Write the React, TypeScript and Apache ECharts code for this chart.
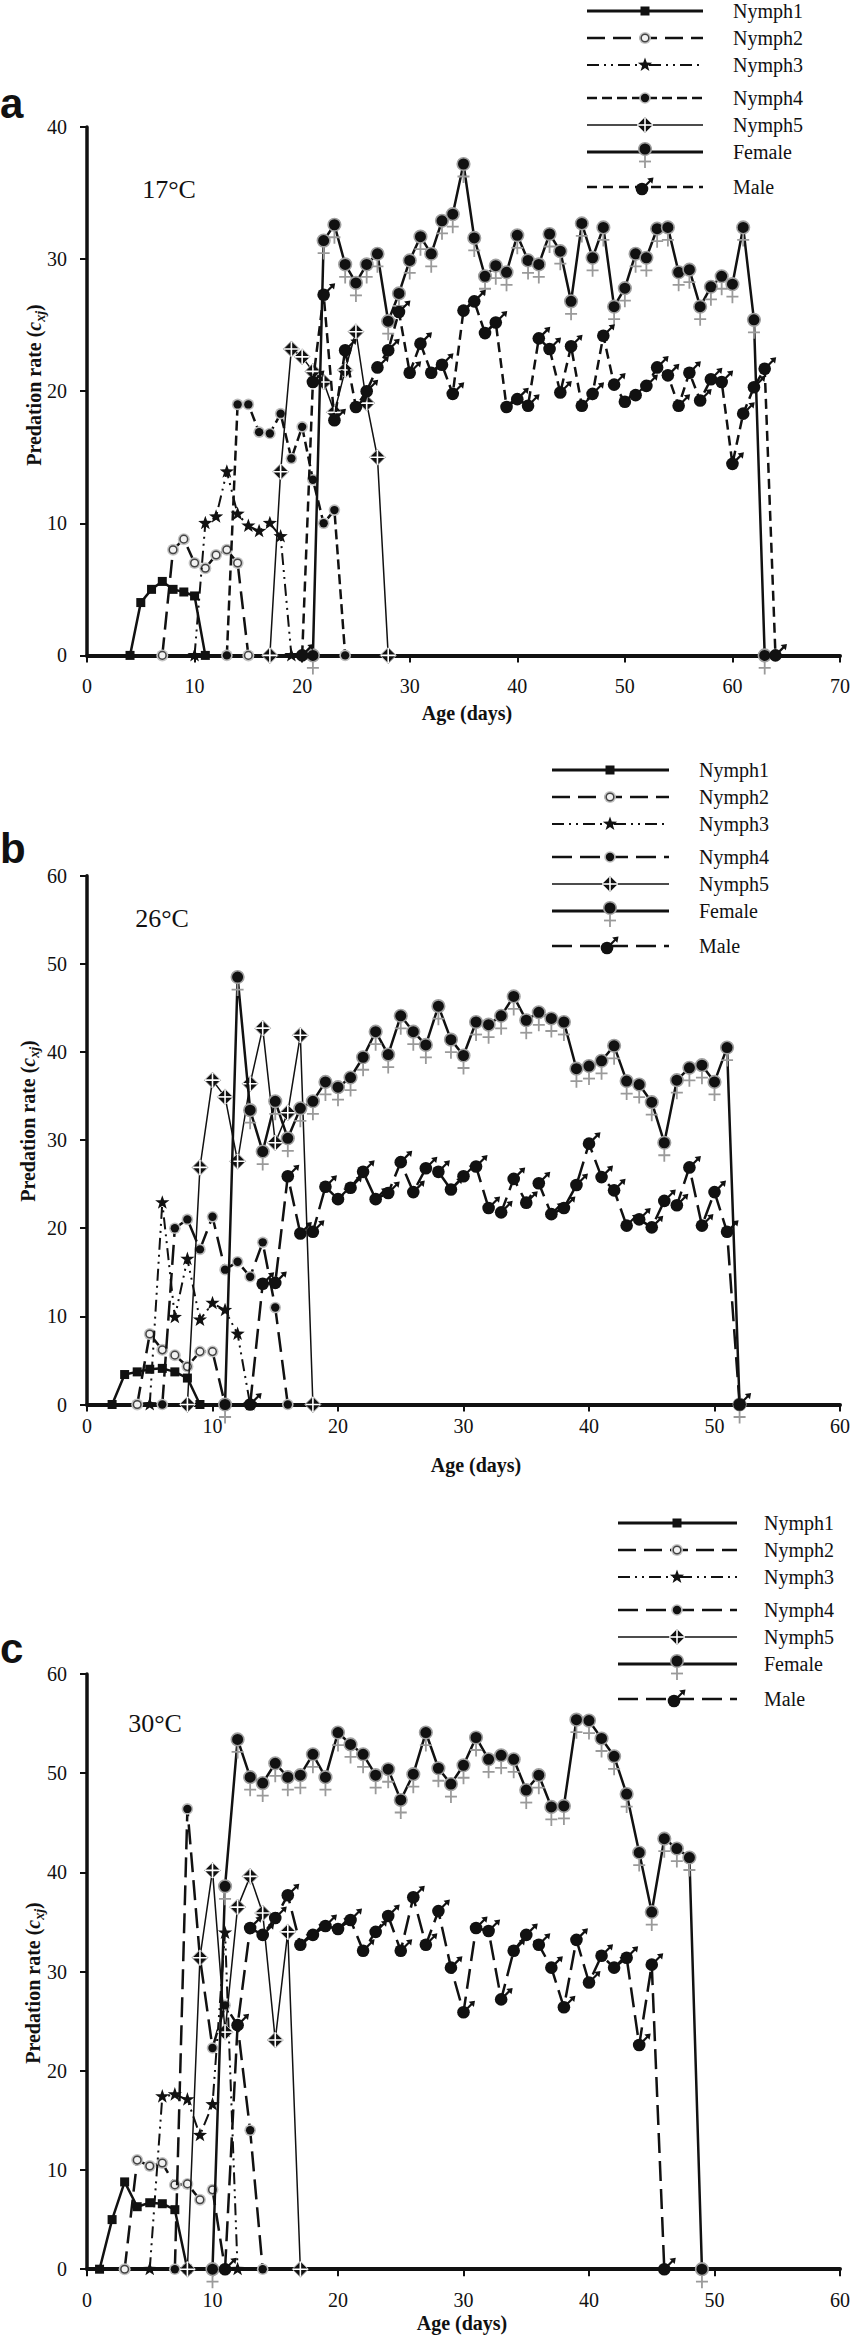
import React, { useEffect, useRef } from "react";
import * as echarts from "echarts";

// ---------------- DATA ----------------
const seriesNames = ["Nymph1", "Nymph2", "Nymph3", "Nymph4", "Nymph5", "Female", "Male"];
const xTicksA = [0, 10, 20, 30, 40, 50, 60, 70];
const xTicksBC = [0, 10, 20, 30, 40, 50, 60];

// Panel a – 17 °C (first value is the day given by the *Start constant)
const aNymph1Start = 4;
const aNymph1 = [0, 4.0, 5.0, 5.6, 5.0, 4.8, 4.5, 0];
const aNymph2Start = 7;
const aNymph2 = [0, 8.0, 8.8, 7.0, 6.6, 7.6, 8.0, 7.0, 0];
const aNymph3Start = 10;
const aNymph3 = [0, 10.0, 10.5, 13.9, 10.7, 9.8, 9.4, 10.0, 9.0, 0];
const aNymph4Start = 13;
const aNymph4 = [0, 19.0, 19.0, 16.9, 16.8, 18.3, 14.9, 17.3, 13.3, 10.0, 11.0, 0];
const aNymph5Start = 17;
const aNymph5 = [0, 13.9, 23.2, 22.6, 21.5, 20.7, 18.4, 21.6, 24.5, 19.1, 15.0, 0];
const aFemaleStart = 21;
const aFemale = [0, 31.4, 32.6, 29.6, 28.2, 29.6, 30.4, 25.3, 27.4, 29.9, 31.7, 30.4, 32.9, 33.4, 37.2, 31.6, 28.7, 29.5, 29.0, 31.8, 29.9, 29.6, 31.9, 30.6, 26.8, 32.7, 30.1, 32.4, 26.4, 27.8, 30.4, 30.1, 32.3, 32.4, 29.0, 29.2, 26.4, 27.9, 28.7, 28.1, 32.4, 25.4, 0];
const aMaleStart = 20;
const aMale = [0, 20.7, 27.3, 17.8, 23.1, 18.8, 20.0, 21.8, 23.1, 26.0, 21.4, 23.6, 21.4, 22.0, 19.8, 26.1, 26.8, 24.4, 25.2, 18.8, 19.4, 18.9, 24.0, 23.2, 19.9, 23.4, 18.9, 19.8, 24.2, 20.5, 19.2, 19.7, 20.4, 21.8, 21.2, 18.9, 21.4, 19.3, 20.9, 20.7, 14.5, 18.3, 20.3, 21.7, 0];

// Panel b – 26 °C
const bNymph1Start = 2;
const bNymph1 = [0, 3.4, 3.7, 4.0, 4.1, 3.7, 3.0, 0];
const bNymph2Start = 4;
const bNymph2 = [0, 8.0, 6.2, 5.6, 4.3, 6.0, 6.0, 0];
const bNymph3Start = 5;
const bNymph3 = [0, 22.9, 9.9, 16.5, 9.6, 11.5, 10.7, 8.0, 0];
const bNymph4Start = 6;
const bNymph4 = [0, 20.0, 21.0, 17.6, 21.3, 15.3, 16.2, 14.5, 18.4, 11.0, 0];
const bNymph5Start = 8;
const bNymph5 = [0, 26.9, 36.8, 34.9, 27.6, 36.4, 42.7, 29.7, 33.1, 41.9, 0];
const bFemaleStart = 11;
const bFemale = [0, 48.5, 33.4, 28.7, 34.4, 30.2, 33.6, 34.4, 36.6, 36.0, 37.1, 39.4, 42.3, 39.7, 44.1, 42.3, 40.8, 45.2, 41.4, 39.6, 43.4, 43.1, 44.1, 46.3, 43.6, 44.5, 43.8, 43.4, 38.1, 38.4, 39.0, 40.7, 36.7, 36.3, 34.3, 29.7, 36.8, 38.2, 38.5, 36.6, 40.5, 0];
const bMaleStart = 13;
const bMale = [0, 13.7, 13.8, 25.9, 19.4, 19.6, 24.7, 23.3, 24.6, 26.4, 23.3, 24.0, 27.5, 24.1, 26.8, 26.4, 24.4, 25.9, 27.0, 22.3, 21.8, 25.6, 22.9, 25.1, 21.6, 22.3, 24.9, 29.6, 25.8, 24.3, 20.3, 21.0, 20.1, 23.1, 22.6, 26.9, 20.3, 24.1, 19.6, 0];

// Panel c – 30 °C
const cNymph1Start = 1;
const cNymph1 = [0, 5.0, 8.8, 6.3, 6.7, 6.6, 6.0, 0];
const cNymph2Start = 3;
const cNymph2 = [0, 11.0, 10.4, 10.7, 8.5, 8.6, 7.0, 8.0, 0];
const cNymph3Start = 5;
const cNymph3 = [0, 17.4, 17.6, 17.1, 13.5, 16.6, 33.9, 0];
const cNymph4Start = 7;
const cNymph4 = [0, 46.4, 31.4, 22.3, 26.6, 24.6, 14.0, 0];
const cNymph5Start = 8;
const cNymph5 = [0, 31.4, 40.2, 23.9, 36.5, 39.6, 35.9, 23.1, 34.0, 0];
const cFemaleStart = 10;
const cFemale = [0, 38.6, 53.4, 49.6, 49.0, 51.0, 49.6, 49.8, 51.9, 49.6, 54.1, 52.9, 51.9, 49.8, 50.4, 47.3, 49.9, 54.1, 50.5, 48.9, 50.8, 53.6, 51.4, 51.8, 51.4, 48.3, 49.8, 46.6, 46.7, 55.4, 55.3, 53.5, 51.7, 47.9, 42.0, 36.0, 43.4, 42.4, 41.5, 0];
const cMaleStart = 11;
const cMale = [0, 24.6, 34.4, 33.7, 35.4, 37.7, 32.7, 33.7, 34.6, 34.3, 35.2, 32.1, 34.0, 35.6, 32.1, 37.5, 32.7, 36.1, 30.4, 25.9, 34.4, 34.1, 27.2, 32.1, 33.7, 32.7, 30.4, 26.4, 33.2, 28.9, 31.6, 30.4, 31.4, 22.6, 30.7, 0];

// ---------------- STYLE ----------------
const SERIF = "Liberation Serif";
const SANS = "Liberation Sans";
const INK = "#111";

const svgUrl = (body: string) =>
  "data:image/svg+xml;charset=utf-8," +
  encodeURIComponent(
    `<svg xmlns="http://www.w3.org/2000/svg" width="40" height="40" viewBox="0 0 40 40">${body}</svg>`
  );

const MARKERS = [
  svgUrl(`<rect x="15.5" y="15.5" width="9" height="9" fill="#111"/>`),
  svgUrl(`<circle cx="20" cy="20" r="6" fill="#c4c4c4"/><circle cx="20" cy="20" r="3.8" fill="#f2f2f2" stroke="#444" stroke-width="1.5"/>`),
  svgUrl(`<polygon points="20,12.5 21.76,17.57 27.13,17.68 22.85,20.93 24.41,26.07 20,23 15.59,26.07 17.15,20.93 12.87,17.68 18.24,17.57" fill="#111"/>`),
  svgUrl(`<circle cx="20" cy="20" r="5.8" fill="#bdbdbd"/><circle cx="20" cy="20" r="4.2" fill="#111"/>`),
  svgUrl(`<polygon points="20,12 28,20 20,28 12,20" fill="#111" stroke="#b0b0b0" stroke-width="1"/><line x1="20" y1="12.5" x2="20" y2="27.5" stroke="#fff" stroke-width="1.6"/><line x1="12.5" y1="20" x2="27.5" y2="20" stroke="#fff" stroke-width="1.6"/>`),
  svgUrl(`<line x1="20" y1="24" x2="20" y2="39" stroke="#9a9a9a" stroke-width="1.8"/><line x1="14" y1="32.5" x2="26" y2="32.5" stroke="#9a9a9a" stroke-width="1.8"/><circle cx="20" cy="20" r="6.3" fill="#111" stroke="#a0a0a0" stroke-width="1.6"/>`),
  svgUrl(`<line x1="20" y1="20" x2="28.5" y2="11.5" stroke="#111" stroke-width="2.2"/><polygon points="31.5,8.5 25.2,9.6 30.4,14.8" fill="#111"/><circle cx="20" cy="20" r="6.3" fill="#111"/>`),
];

type LS = { width: number; dash?: number[] };
const stylesA: LS[] = [
  { width: 2.5 },
  { width: 2.5, dash: [18, 8] },
  { width: 2, dash: [12, 5, 2, 5, 2, 5] },
  { width: 2.5, dash: [10, 5] },
  { width: 1.5 },
  { width: 2.5 },
  { width: 2.5, dash: [10, 6] },
];
const stylesBC: LS[] = [
  { width: 2.5 },
  { width: 2.5, dash: [18, 8] },
  { width: 2, dash: [12, 5, 2, 5, 2, 5] },
  { width: 2.5, dash: [20, 8] },
  { width: 1.5 },
  { width: 2.5 },
  { width: 2.5, dash: [20, 8] },
];

const LEGEND_OFFSETS = [0, 27, 54, 87, 114, 141, 176];

const panels = [
  {
    letter: "a", temp: "17°C",
    top: 127, height: 528.4, xMax: 70, yMax: 40, xTicks: xTicksA, labelMargin: 21,
    starts: [aNymph1Start, aNymph2Start, aNymph3Start, aNymph4Start, aNymph5Start, aFemaleStart, aMaleStart],
    values: [aNymph1, aNymph2, aNymph3, aNymph4, aNymph5, aFemale, aMale],
    styles: stylesA,
    letterY: 103, tempX: 169, tempY: 189, yTitleX: 34, yTitleY: 385, xTitleX: 467, xTitleY: 713,
    lx1: 587, lx2: 703, lmx: 645, ltx: 733, ly0: 11,
  },
  {
    letter: "b", temp: "26°C",
    top: 875.7, height: 528.8, xMax: 60, yMax: 60, xTicks: xTicksBC, labelMargin: 11,
    starts: [bNymph1Start, bNymph2Start, bNymph3Start, bNymph4Start, bNymph5Start, bFemaleStart, bMaleStart],
    values: [bNymph1, bNymph2, bNymph3, bNymph4, bNymph5, bFemale, bMale],
    styles: stylesBC,
    letterY: 848, tempX: 162, tempY: 918, yTitleX: 28, yTitleY: 1121, xTitleX: 476, xTitleY: 1465,
    lx1: 552, lx2: 669, lmx: 610, ltx: 699, ly0: 770,
  },
  {
    letter: "c", temp: "30°C",
    top: 1674, height: 595.2, xMax: 60, yMax: 60, xTicks: xTicksBC, labelMargin: 21,
    starts: [cNymph1Start, cNymph2Start, cNymph3Start, cNymph4Start, cNymph5Start, cFemaleStart, cMaleStart],
    values: [cNymph1, cNymph2, cNymph3, cNymph4, cNymph5, cFemale, cMale],
    styles: stylesBC,
    letterY: 1648, tempX: 155, tempY: 1723, yTitleX: 33, yTitleY: 1983, xTitleX: 462, xTitleY: 2323,
    lx1: 618, lx2: 737, lmx: 677, ltx: 764, ly0: 1523,
  },
];

function buildOption() {
  const grid: any[] = [];
  const xAxis: any[] = [];
  const yAxis: any[] = [];
  const series: any[] = [];
  const graphic: any[] = [];

  panels.forEach((p, pi) => {
    grid.push({ left: 87, width: 756.5, top: p.top, height: p.height, containLabel: false });
    xAxis.push({
      type: "value", gridIndex: pi, min: 0, max: p.xMax, interval: 10,
      axisLine: { show: true, onZero: true, lineStyle: { color: INK, width: 4 } },
      axisTick: { show: true, length: 7, lineStyle: { color: INK, width: 2 } },
      axisLabel: { color: INK, fontSize: 20, fontFamily: SERIF, margin: p.labelMargin },
      splitLine: { show: false },
    });
    yAxis.push({
      type: "value", gridIndex: pi, min: 0, max: p.yMax, interval: 10,
      axisLine: { show: true, lineStyle: { color: INK, width: 3.5 } },
      axisTick: { show: true, length: 7, lineStyle: { color: INK, width: 2 } },
      axisLabel: { color: INK, fontSize: 20, fontFamily: SERIF, margin: 20 },
      splitLine: { show: false },
    });

    p.values.forEach((vals, si) => {
      const st = p.styles[si];
      series.push({
        type: "line",
        name: `${p.letter}-${seriesNames[si]}`,
        xAxisIndex: pi, yAxisIndex: pi,
        data: vals.map((v, j) => [p.starts[si] + j, v]),
        symbol: "image://" + MARKERS[si],
        symbolSize: 40,
        showAllSymbol: true,
        clip: false,
        lineStyle: { color: INK, width: st.width, type: st.dash ? st.dash : "solid" },
        itemStyle: { color: INK },
        emphasis: { disabled: true },
        z: 2 + si,
      });
    });

    graphic.push({
      type: "text", x: 0, y: p.letterY, silent: true,
      style: { text: p.letter, fill: INK, fontSize: 42, fontWeight: "bold", fontFamily: SANS, align: "left", verticalAlign: "middle", textAlign: "left", textVerticalAlign: "middle" },
    });
    graphic.push({
      type: "text", x: p.tempX, y: p.tempY, silent: true,
      style: { text: p.temp, fill: INK, fontSize: 26, fontFamily: SERIF, align: "center", verticalAlign: "middle", textAlign: "center", textVerticalAlign: "middle" },
    });
    graphic.push({
      type: "text", x: p.yTitleX, y: p.yTitleY, rotation: Math.PI / 2, silent: true,
      style: {
        text: "{b|Predation rate (}{i|c}{s|xj}{b|)}",
        align: "center", verticalAlign: "middle", textAlign: "center", textVerticalAlign: "middle",
        rich: {
          b: { fontSize: 20, fontWeight: "bold", fontFamily: SERIF, lineHeight: 26, fill: INK, color: INK },
          i: { fontSize: 20, fontWeight: "bold", fontStyle: "italic", fontFamily: SERIF, lineHeight: 26, fill: INK, color: INK },
          s: { fontSize: 14, fontWeight: "bold", fontStyle: "italic", fontFamily: SERIF, lineHeight: 14, verticalAlign: "bottom", fill: INK, color: INK },
        },
      },
    });
    graphic.push({
      type: "text", x: p.xTitleX, y: p.xTitleY, silent: true,
      style: { text: "Age (days)", fill: INK, fontSize: 20, fontWeight: "bold", fontFamily: SERIF, align: "center", verticalAlign: "middle", textAlign: "center", textVerticalAlign: "middle" },
    });
    seriesNames.forEach((name, k) => {
      const y = p.ly0 + LEGEND_OFFSETS[k];
      const st = p.styles[k];
      const lineStyle: any = { stroke: INK, lineWidth: k === 0 || k === 5 ? 3 : st.width };
      if (st.dash) lineStyle.lineDash = st.dash;
      graphic.push({ type: "line", silent: true, shape: { x1: p.lx1, y1: y, x2: p.lx2, y2: y }, style: lineStyle });
      const ox = k === 6 ? -3 : 0;
      const oy = k === 5 ? -3 : k === 6 ? 2 : 0;
      graphic.push({ type: "image", silent: true, style: { image: MARKERS[k], x: p.lmx + ox - 20, y: y + oy - 20, width: 40, height: 40 } });
      graphic.push({
        type: "text", x: p.ltx, y, silent: true,
        style: { text: name, fill: INK, fontSize: 20, fontFamily: SERIF, align: "left", verticalAlign: "middle", textAlign: "left", textVerticalAlign: "middle" },
      });
    });
  });

  return {
    animation: false,
    backgroundColor: "#fff",
    textStyle: { fontFamily: SERIF },
    grid, xAxis, yAxis, series, graphic,
  };
}

export default function App() {
  const ref = useRef<HTMLDivElement>(null);
  useEffect(() => {
    document.body.style.margin = "0";
    const chart = echarts.init(ref.current as HTMLDivElement, null, { renderer: "svg" });
    chart.setOption(buildOption() as any);
    return () => chart.dispose();
  }, []);
  return <div ref={ref} style={{ width: 853, height: 2336 }} />;
}
